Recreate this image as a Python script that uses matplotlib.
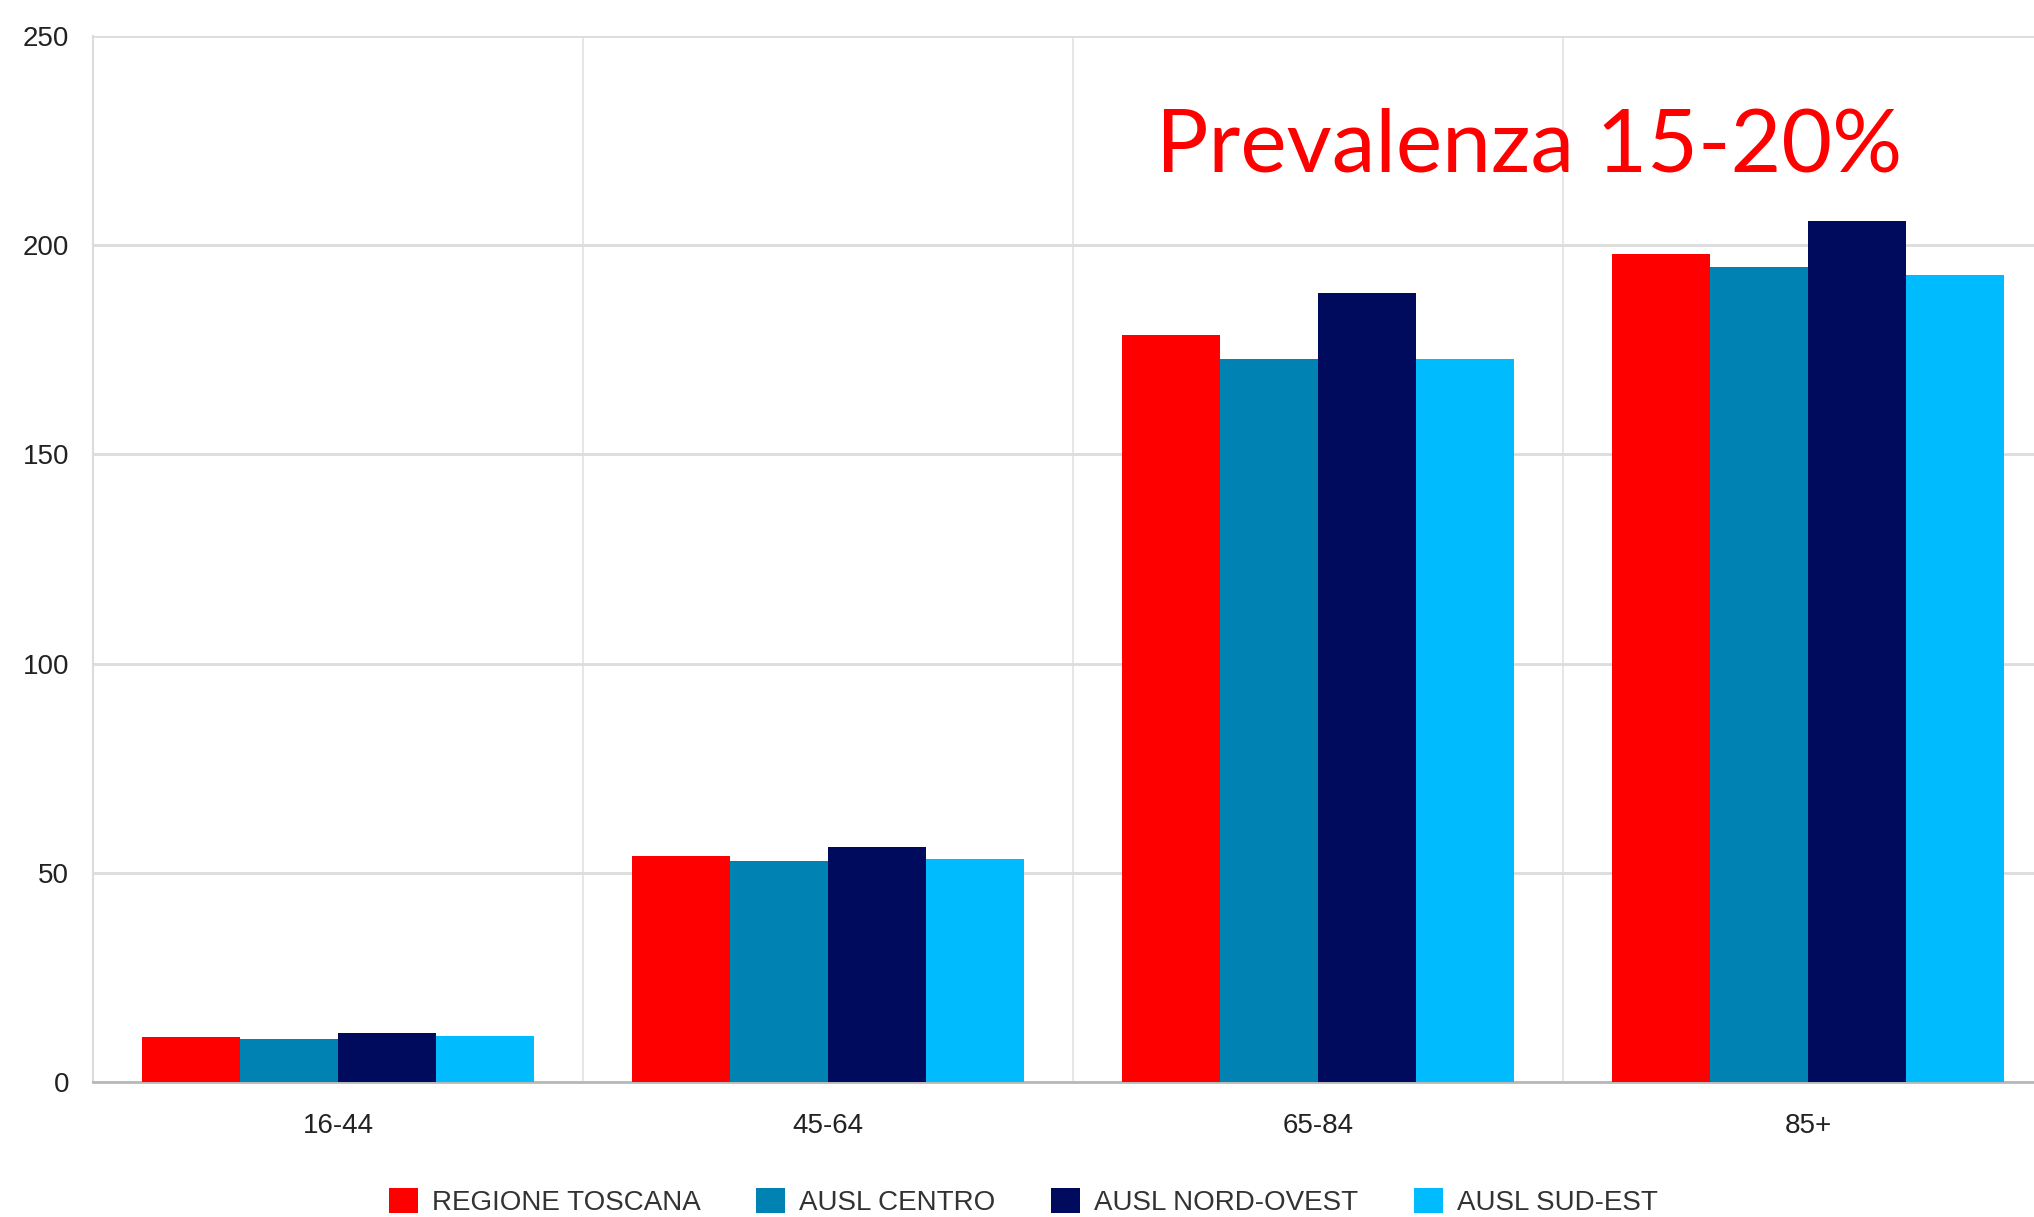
import numpy as np
import matplotlib.pyplot as plt

# ---------------- data
age_groups = ['16-44', '45-64', '65-84', '85+']
regione_toscana = [10.7, 54.0, 178.5, 197.9]
ausl_centro = [10.3, 52.9, 172.8, 194.7]
ausl_nord_ovest = [11.8, 56.1, 188.5, 205.7]
ausl_sud_est = [11.1, 53.4, 172.7, 192.9]

series_names = ['REGIONE TOSCANA', 'AUSL CENTRO', 'AUSL NORD-OVEST', 'AUSL SUD-EST']
series_colors = ['#ff0000', '#0082b2', '#000b5e', '#00bcff']

plt.rcParams['font.family'] = ['Liberation Sans', 'DejaVu Sans']

fig = plt.figure(figsize=(20.34, 12.17), dpi=100)
ax = fig.add_axes([0.0457, 0.1109, 0.9636, 0.8595])

x = np.arange(len(age_groups)) + 0.5
bar_w = 0.2
all_series = [regione_toscana, ausl_centro, ausl_nord_ovest, ausl_sud_est]
handles = []
for i, (vals, name, col) in enumerate(zip(all_series, series_names, series_colors)):
    b = ax.bar(x + (i - 1.5) * bar_w, vals, bar_w, color=col, label=name, zorder=3)
    handles.append(b)

ax.set_xlim(0, 4)
ax.set_ylim(0, 250)
ax.set_yticks(np.arange(0, 251, 50))
ax.set_xticks(x)
ax.set_xticklabels(age_groups)

# grid: horizontal lines and vertical separators between groups
ax.set_xticks(np.arange(0, 5), minor=True)
ax.grid(axis='y', which='major', color='#dcdcdc', linewidth=2, zorder=0)
ax.grid(axis='x', which='minor', color='#e2e2e2', linewidth=1.2, zorder=0)
ax.grid(axis='x', which='major', visible=False)
for s in ['top', 'right']:
    ax.spines[s].set_visible(False)
ax.spines['left'].set_color('#dcdcdc')
ax.spines['left'].set_linewidth(1.5)
ax.spines['bottom'].set_color('#b8b8b8')
ax.spines['bottom'].set_linewidth(2)

ax.tick_params(axis='y', length=0, pad=17, labelsize=20, labelcolor='#222222')
ax.tick_params(axis='x', which='both', length=0, pad=22, labelsize=20, labelcolor='#222222')

ax.text(2.17, 223.5, 'Prevalenza 15-20%', color='#ff0000', fontsize=63,
        family=['Lato', 'DejaVu Sans'], va='center', ha='left')

fig.legend(handles=handles, loc='center', bbox_to_anchor=(0.503, 0.0123), ncol=4,
           frameon=False, fontsize=20, handlelength=1.05, handleheight=1.0,
           handletextpad=0.5, columnspacing=2.0, labelcolor='#333333')

fig.savefig('out.png', dpi=100, facecolor='white')
